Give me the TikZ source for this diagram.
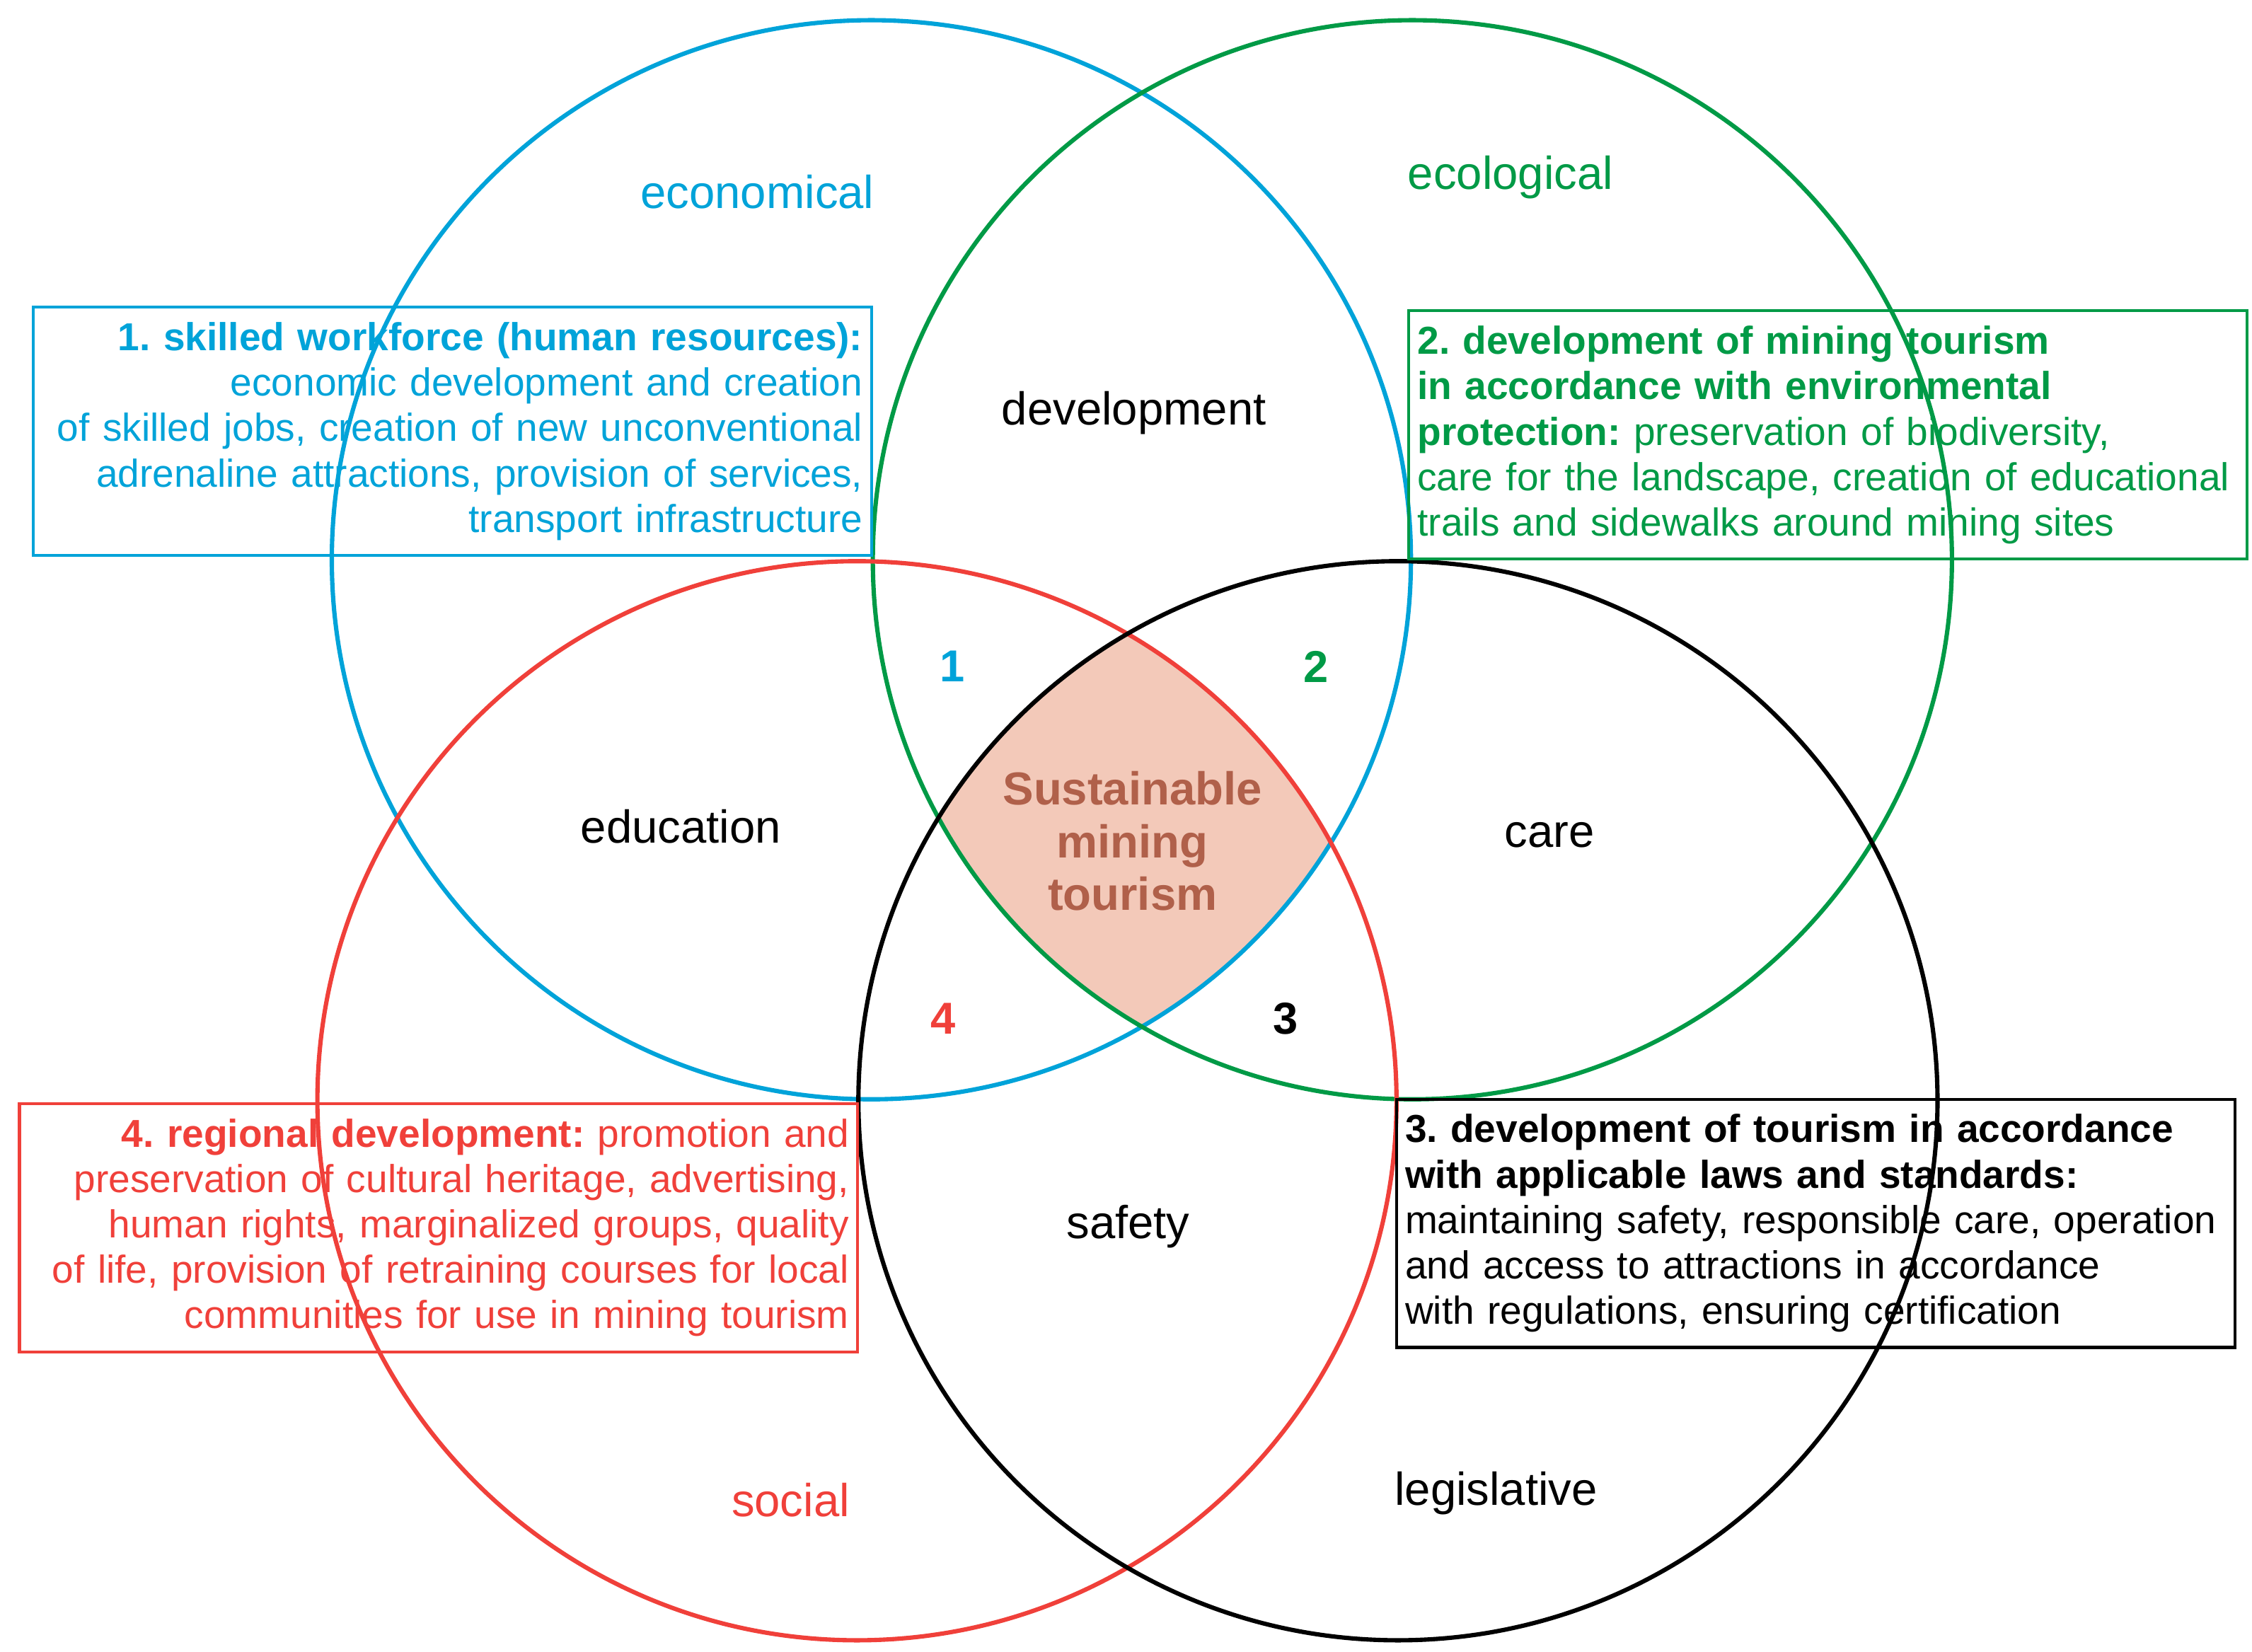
\documentclass[tikz,border=0pt]{standalone}
\usepackage{fontspec}
\setmainfont{Liberation Sans}
\frenchspacing
\definecolor{cblue}{HTML}{00A3D9}
\definecolor{cgreen}{HTML}{009A46}
\definecolor{cred}{HTML}{F0403A}
\definecolor{cbrown}{HTML}{B0604A}
\definecolor{cfill}{HTML}{F3C9B9}
\begin{document}
\begin{tikzpicture}[x=1pt,y=-1pt,
  ring/.style={line width=3pt},
  lbl/.style={font=\fontsize{32}{36}\selectfont},
  num/.style={font=\fontsize{31}{34}\selectfont\bfseries},
  infobox/.style={draw,line width=2pt,minimum width=581pt,minimum height=172pt,text width=569pt,inner sep=4pt,font=\fontsize{27}{31.5}\selectfont}]
\useasboundingbox (0,0) rectangle (1561,1145);
\fill[white] (0,0) rectangle (1561,1145);
\begin{scope}
\clip (604,388) circle (374);
\clip (979,388) circle (374);
\clip (594,763) circle (374);
\clip (969,763) circle (374);
\fill[cfill] (0,0) rectangle (1561,1145);
\end{scope}
\draw[ring,cblue] (604,388) circle (374);
\draw[ring,cgreen] (979,388) circle (374);
\draw[ring,cred] (594,763) circle (374);
\draw[ring,black] (969,763) circle (374);

\node[infobox,cblue,align=right] (b1) at (313.5,299) {\textbf{1. skilled workforce (human resources):}\\economic development and creation\\of skilled jobs, creation of new unconventional\\adrenaline attractions, provision of services,\\transport infrastructure};
\node[infobox,cgreen,align=left] (b2) at (1267,301.5) {\textbf{2. development of mining tourism}\\\textbf{in accordance with environmental}\\\textbf{protection:} preservation of biodiversity,\\care for the landscape, creation of educational\\trails and sidewalks around mining sites};
\node[infobox,cred,align=right] (b4) at (304,851) {\textbf{4. regional development:} promotion and\\preservation of cultural heritage, advertising,\\human rights, marginalized groups, quality\\of life, provision of retraining courses for local\\communities for use in mining tourism};
\node[infobox,black,align=left] (b3) at (1258.5,848) {\textbf{3. development of tourism in accordance}\\\textbf{with applicable laws and standards:}\\maintaining safety, responsible care, operation\\and access to attractions in accordance\\with regulations, ensuring certification};

\node[lbl,cblue] (eco) at (525,133) {economical};
\node[lbl,cgreen] (ecl) at (1047,123) {ecological};
\node[lbl] (dev) at (786,286) {development};
\node[lbl] (edu) at (472,573) {education};
\node[lbl] (care) at (1074,579) {care};
\node[lbl] (saf) at (782,850) {safety};
\node[lbl,cred] (soc) at (548,1040) {social};
\node[lbl] (leg) at (1037,1035) {legislative};
\node[num,cblue] (n1) at (660,462) {1};
\node[num,cgreen] (n2) at (912,462) {2};
\node[num,cred] (n4) at (654,706) {4};
\node[num] (n3) at (891,706) {3};
\node[font=\fontsize{32}{36.5}\selectfont\bfseries,text=cbrown,align=center] (smt) at (785,583) {Sustainable\\mining\\tourism};
\end{tikzpicture}
\end{document}
